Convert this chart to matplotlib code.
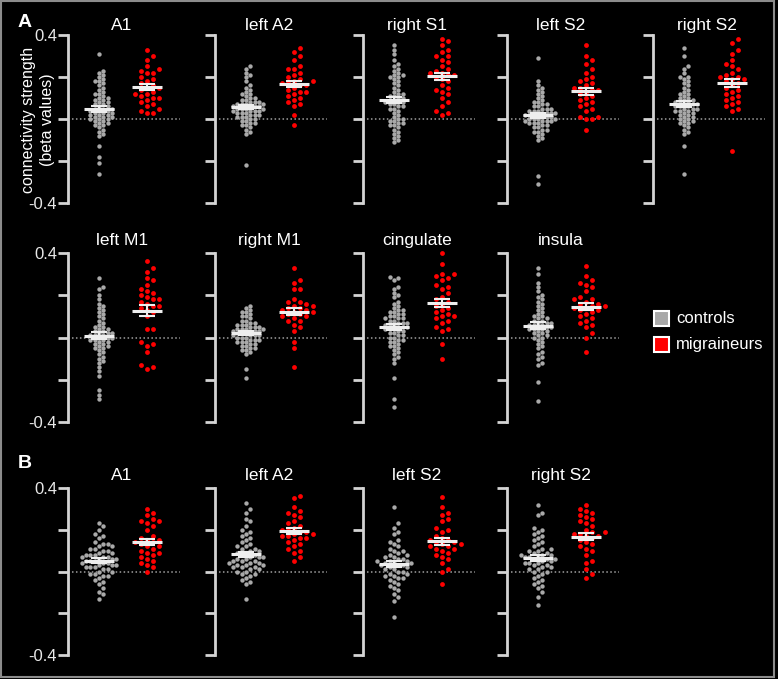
import numpy as np
import matplotlib
matplotlib.use("Agg")
import matplotlib.pyplot as plt
from matplotlib.patches import Rectangle

plt.rcParams['font.family'] = ['Liberation Sans', 'DejaVu Sans']

# ---- data (beta values) ----
groups = ["controls", "migraineurs"]
group_colors = ["#a9a9a9", "#ff0000"]

a1_ctrl = [0.31, 0.23, 0.22, 0.21, 0.20, 0.19, 0.18, 0.18, 0.17, 0.16, 0.15, 0.14, 0.13, 0.12, 0.12,
           0.11, 0.10, 0.10, 0.09, 0.09, 0.08, 0.08, 0.07, 0.07, 0.06, 0.06, 0.05, 0.05, 0.05, 0.04,
           0.04, 0.04, 0.03, 0.03, 0.03, 0.02, 0.02, 0.02, 0.01, 0.01, 0.01, 0.00, 0.00, 0.00, -0.01,
           -0.01, -0.02, -0.02, -0.03, -0.03, -0.04, -0.05, -0.06, -0.07, -0.08, -0.13, -0.18, -0.21, -0.26]
a1_migr = [0.33, 0.30, 0.28, 0.25, 0.24, 0.23, 0.22, 0.22, 0.20, 0.19, 0.18, 0.17, 0.16, 0.15, 0.15,
           0.14, 0.13, 0.12, 0.12, 0.11, 0.10, 0.10, 0.09, 0.08, 0.07, 0.06, 0.05, 0.04, 0.03, 0.03]

la2_ctrl = [0.25, 0.24, 0.22, 0.21, 0.20, 0.18, 0.16, 0.15, 0.14, 0.13, 0.12, 0.12, 0.11, 0.10, 0.10,
            0.09, 0.09, 0.08, 0.08, 0.08, 0.07, 0.07, 0.07, 0.07, 0.06, 0.06, 0.06, 0.06, 0.05, 0.05,
            0.05, 0.05, 0.04, 0.04, 0.04, 0.04, 0.03, 0.03, 0.03, 0.02, 0.02, 0.02, 0.01, 0.01, 0.01,
            0.00, 0.00, -0.01, -0.01, -0.02, -0.02, -0.03, -0.03, -0.04, -0.05, -0.06, -0.07, -0.22]
la2_migr = [0.34, 0.32, 0.30, 0.28, 0.25, 0.24, 0.24, 0.22, 0.21, 0.20, 0.19, 0.18, 0.18, 0.17, 0.17,
            0.16, 0.15, 0.14, 0.13, 0.13, 0.12, 0.11, 0.10, 0.09, 0.08, 0.07, 0.06, 0.02, -0.03, 0.16]

rs1_ctrl = [0.35, 0.33, 0.31, 0.28, 0.26, 0.25, 0.24, 0.23, 0.22, 0.21, 0.21, 0.20, 0.20, 0.19, 0.18,
            0.17, 0.16, 0.15, 0.14, 0.13, 0.12, 0.12, 0.11, 0.11, 0.10, 0.10, 0.09, 0.09, 0.08, 0.08,
            0.08, 0.07, 0.07, 0.06, 0.06, 0.05, 0.05, 0.04, 0.03, 0.02, 0.01, 0.00, 0.00, -0.01, -0.01,
            -0.02, -0.02, -0.03, -0.03, -0.04, -0.05, -0.06, -0.07, -0.08, -0.09, -0.10, -0.11]
rs1_migr = [0.38, 0.37, 0.35, 0.33, 0.32, 0.30, 0.30, 0.28, 0.27, 0.25, 0.24, 0.23, 0.22, 0.21, 0.21,
            0.20, 0.19, 0.18, 0.16, 0.15, 0.14, 0.13, 0.12, 0.10, 0.08, 0.06, 0.04, 0.03, 0.02, 0.22]

ls2_ctrl = [0.29, 0.18, 0.16, 0.15, 0.14, 0.13, 0.12, 0.11, 0.10, 0.09, 0.08, 0.08, 0.07, 0.07, 0.06,
            0.06, 0.05, 0.05, 0.05, 0.04, 0.04, 0.04, 0.03, 0.03, 0.03, 0.03, 0.02, 0.02, 0.02, 0.02,
            0.01, 0.01, 0.01, 0.00, 0.00, 0.00, 0.00, -0.01, -0.01, -0.01, -0.01, -0.02, -0.02, -0.02,
            -0.03, -0.03, -0.04, -0.04, -0.05, -0.05, -0.06, -0.06, -0.07, -0.08, -0.09, -0.10, -0.27, -0.31]
ls2_migr = [0.35, 0.30, 0.28, 0.26, 0.24, 0.22, 0.20, 0.19, 0.18, 0.17, 0.16, 0.15, 0.14, 0.14, 0.13,
            0.12, 0.11, 0.10, 0.09, 0.08, 0.07, 0.06, 0.05, 0.04, 0.01, 0.00, 0.00, 0.01, -0.05, 0.15]

rs2_ctrl = [0.34, 0.30, 0.25, 0.24, 0.22, 0.20, 0.20, 0.19, 0.18, 0.17, 0.16, 0.15, 0.14, 0.13, 0.12,
            0.12, 0.11, 0.10, 0.10, 0.09, 0.09, 0.08, 0.08, 0.08, 0.07, 0.07, 0.07, 0.06, 0.06, 0.06,
            0.05, 0.05, 0.05, 0.04, 0.04, 0.04, 0.03, 0.03, 0.02, 0.02, 0.01, 0.01, 0.00, 0.00, -0.01,
            -0.01, -0.02, -0.02, -0.03, -0.04, -0.05, -0.06, -0.07, -0.13, -0.26]
rs2_migr = [0.38, 0.36, 0.33, 0.31, 0.28, 0.26, 0.25, 0.24, 0.22, 0.21, 0.20, 0.20, 0.19, 0.18, 0.17,
            0.16, 0.15, 0.14, 0.13, 0.12, 0.11, 0.10, 0.09, 0.08, 0.07, 0.06, 0.05, 0.04, -0.15, 0.19]

lm1_ctrl = [0.28, 0.24, 0.23, 0.20, 0.18, 0.16, 0.15, 0.14, 0.13, 0.12, 0.11, 0.10, 0.09, 0.08, 0.07,
            0.06, 0.05, 0.05, 0.04, 0.04, 0.03, 0.03, 0.02, 0.02, 0.02, 0.01, 0.01, 0.01, 0.00, 0.00,
            0.00, -0.01, -0.01, -0.01, -0.02, -0.02, -0.03, -0.03, -0.04, -0.04, -0.05, -0.05, -0.06,
            -0.07, -0.08, -0.09, -0.10, -0.11, -0.12, -0.14, -0.16, -0.18, -0.25, -0.27, -0.29]
lm1_migr = [0.36, 0.33, 0.31, 0.28, 0.27, 0.25, 0.23, 0.22, 0.21, 0.20, 0.19, 0.18, 0.18, 0.17, 0.16,
            0.15, 0.15, 0.14, 0.13, 0.12, 0.10, 0.04, 0.04, -0.02, -0.03, -0.04, -0.07, -0.13, -0.14, -0.15]

rm1_ctrl = [0.15, 0.14, 0.13, 0.12, 0.12, 0.11, 0.10, 0.10, 0.09, 0.08, 0.08, 0.07, 0.07, 0.06, 0.06,
            0.06, 0.05, 0.05, 0.05, 0.04, 0.04, 0.04, 0.04, 0.03, 0.03, 0.03, 0.03, 0.02, 0.02, 0.02,
            0.01, 0.01, 0.01, 0.01, 0.00, 0.00, 0.00, -0.01, -0.01, -0.01, -0.02, -0.02, -0.02, -0.03,
            -0.03, -0.04, -0.04, -0.05, -0.05, -0.06, -0.06, -0.07, -0.08, -0.15, -0.19]
rm1_migr = [0.33, 0.27, 0.26, 0.23, 0.23, 0.18, 0.17, 0.17, 0.16, 0.15, 0.15, 0.14, 0.14, 0.13, 0.13,
            0.12, 0.12, 0.11, 0.11, 0.10, 0.10, 0.09, 0.08, 0.08, 0.06, 0.05, 0.03, -0.02, -0.05, -0.14]

cing_ctrl = [0.285, 0.28, 0.27, 0.24, 0.23, 0.21, 0.20, 0.19, 0.17, 0.16, 0.15, 0.14, 0.13, 0.13, 0.12,
             0.12, 0.11, 0.11, 0.10, 0.10, 0.09, 0.09, 0.09, 0.08, 0.08, 0.07, 0.07, 0.07, 0.06, 0.06,
             0.06, 0.05, 0.05, 0.05, 0.04, 0.04, 0.04, 0.03, 0.03, 0.02, 0.02, 0.01, 0.01, 0.00, 0.00,
             -0.01, -0.01, -0.02, -0.02, -0.03, -0.04, -0.04, -0.05, -0.06, -0.07, -0.08, -0.09, -0.10,
             -0.12, -0.19, -0.29, -0.33]
cing_migr = [0.40, 0.35, 0.30, 0.30, 0.29, 0.28, 0.27, 0.25, 0.24, 0.23, 0.21, 0.19, 0.18, 0.17, 0.16,
             0.15, 0.14, 0.13, 0.12, 0.11, 0.10, 0.10, 0.09, 0.08, 0.07, 0.05, 0.04, 0.03, -0.03, -0.10]

ins_ctrl = [0.33, 0.30, 0.26, 0.24, 0.22, 0.20, 0.19, 0.18, 0.17, 0.16, 0.15, 0.14, 0.13, 0.12, 0.11,
            0.10, 0.10, 0.09, 0.09, 0.08, 0.08, 0.07, 0.07, 0.07, 0.06, 0.06, 0.06, 0.05, 0.05, 0.05,
            0.04, 0.04, 0.04, 0.03, 0.03, 0.02, 0.02, 0.01, 0.01, 0.00, 0.00, -0.01, -0.02, -0.03,
            -0.04, -0.05, -0.07, -0.08, -0.09, -0.10, -0.12, -0.13, -0.21, -0.30]
ins_migr = [0.34, 0.29, 0.27, 0.26, 0.25, 0.24, 0.22, 0.19, 0.18, 0.18, 0.17, 0.16, 0.16, 0.15, 0.15,
            0.14, 0.14, 0.13, 0.13, 0.12, 0.11, 0.10, 0.09, 0.08, 0.07, 0.06, 0.05, 0.02, 0.00, -0.07]

b_a1_ctrl = [0.23, 0.22, 0.20, 0.18, 0.17, 0.16, 0.14, 0.13, 0.13, 0.12, 0.12, 0.11, 0.11, 0.10, 0.10,
             0.09, 0.09, 0.08, 0.08, 0.08, 0.07, 0.07, 0.07, 0.06, 0.06, 0.06, 0.05, 0.05, 0.05, 0.04,
             0.04, 0.04, 0.03, 0.03, 0.03, 0.02, 0.02, 0.02, 0.01, 0.01, 0.00, 0.00, -0.01, -0.01,
             -0.02, -0.02, -0.03, -0.04, -0.05, -0.06, -0.08, -0.10, -0.11, -0.13]
b_a1_migr = [0.30, 0.28, 0.27, 0.25, 0.24, 0.24, 0.23, 0.22, 0.20, 0.17, 0.16, 0.15, 0.15, 0.14, 0.14,
             0.13, 0.12, 0.12, 0.11, 0.10, 0.09, 0.09, 0.08, 0.07, 0.06, 0.05, 0.04, 0.03, 0.02, 0.00]

b_la2_ctrl = [0.33, 0.30, 0.28, 0.25, 0.24, 0.22, 0.20, 0.19, 0.18, 0.17, 0.16, 0.15, 0.14, 0.13, 0.12,
              0.12, 0.11, 0.11, 0.10, 0.10, 0.09, 0.09, 0.08, 0.08, 0.07, 0.07, 0.07, 0.06, 0.06, 0.05,
              0.05, 0.05, 0.04, 0.04, 0.04, 0.03, 0.03, 0.03, 0.02, 0.02, 0.02, 0.01, 0.01, 0.00, 0.00,
              -0.01, -0.01, -0.02, -0.03, -0.04, -0.05, -0.06, -0.13]
b_la2_migr = [0.36, 0.35, 0.31, 0.29, 0.28, 0.27, 0.26, 0.24, 0.23, 0.22, 0.21, 0.20, 0.20, 0.19, 0.19,
              0.18, 0.18, 0.17, 0.17, 0.16, 0.16, 0.15, 0.14, 0.13, 0.12, 0.11, 0.10, 0.09, 0.07, 0.05]

b_ls2_ctrl = [0.31, 0.23, 0.21, 0.19, 0.18, 0.15, 0.14, 0.13, 0.12, 0.11, 0.10, 0.10, 0.09, 0.08, 0.08,
              0.07, 0.07, 0.06, 0.06, 0.05, 0.05, 0.05, 0.04, 0.04, 0.04, 0.03, 0.03, 0.03, 0.02, 0.02,
              0.01, 0.01, 0.00, 0.00, -0.01, -0.01, -0.02, -0.02, -0.03, -0.03, -0.04, -0.05, -0.06,
              -0.07, -0.08, -0.09, -0.11, -0.12, -0.14, -0.22]
b_ls2_migr = [0.355, 0.31, 0.28, 0.27, 0.25, 0.24, 0.21, 0.20, 0.19, 0.17, 0.16, 0.15, 0.15, 0.14, 0.14,
              0.13, 0.13, 0.12, 0.12, 0.11, 0.11, 0.10, 0.09, 0.08, 0.07, 0.06, 0.04, 0.01, 0.00, -0.06]

b_rs2_ctrl = [0.32, 0.28, 0.27, 0.21, 0.20, 0.19, 0.18, 0.17, 0.16, 0.15, 0.14, 0.13, 0.12, 0.11, 0.11,
              0.10, 0.10, 0.09, 0.09, 0.08, 0.08, 0.08, 0.07, 0.07, 0.07, 0.06, 0.06, 0.06, 0.05, 0.05,
              0.04, 0.04, 0.04, 0.03, 0.03, 0.02, 0.02, 0.01, 0.01, 0.00, 0.00, -0.01, -0.02, -0.03,
              -0.04, -0.05, -0.06, -0.07, -0.08, -0.10, -0.12, -0.16]
b_rs2_migr = [0.32, 0.30, 0.29, 0.28, 0.27, 0.26, 0.25, 0.24, 0.23, 0.22, 0.20, 0.19, 0.19, 0.18, 0.18,
              0.17, 0.17, 0.16, 0.15, 0.14, 0.13, 0.12, 0.11, 0.10, 0.08, 0.05, 0.04, 0.01, -0.01, -0.03]

# (title, controls, migraineurs, row, column)
panels = [
    ("A1", a1_ctrl, a1_migr, 0, 0),
    ("left A2", la2_ctrl, la2_migr, 0, 1),
    ("right S1", rs1_ctrl, rs1_migr, 0, 2),
    ("left S2", ls2_ctrl, ls2_migr, 0, 3),
    ("right S2", rs2_ctrl, rs2_migr, 0, 4),
    ("left M1", lm1_ctrl, lm1_migr, 1, 0),
    ("right M1", rm1_ctrl, rm1_migr, 1, 1),
    ("cingulate", cing_ctrl, cing_migr, 1, 2),
    ("insula", ins_ctrl, ins_migr, 1, 3),
    ("A1", b_a1_ctrl, b_a1_migr, 2, 0),
    ("left A2", b_la2_ctrl, b_la2_migr, 2, 1),
    ("left S2", b_ls2_ctrl, b_ls2_migr, 2, 2),
    ("right S2", b_rs2_ctrl, b_rs2_migr, 2, 3),
]

# ---- layout in pixels ----
W, H = 778, 679
row_top = [35, 253, 488]      # pixel y of +0.4
row_bot = [203, 422, 655]     # pixel y of -0.4
row_title = [30, 245, 480]    # title baseline
col_x = [68, 215, 363, 507, 653]
AX_W = 120
centers = [31, 79]
spine_col = "#d4d4d4"


def swarm(vals, d, px_per_unit):
    """beeswarm offsets (pixels) for the given values"""
    ys = np.asarray(vals) * px_per_unit
    order = np.argsort(ys)
    placed = []
    xs = np.zeros(len(ys))
    for i in order:
        k = 0
        while True:
            step = (k + 1) // 2 * (1 if k % 2 else -1)
            cand = step * d
            ok = True
            for (px, py) in placed:
                if (px - cand) ** 2 + (py - ys[i]) ** 2 < d * d * 0.95:
                    ok = False
                    break
            if ok:
                break
            k += 1
        xs[i] = cand
        placed.append((cand, ys[i]))
    return xs


fig = plt.figure(figsize=(W / 100, H / 100), dpi=100, facecolor="black")


def fx(x):
    return x / W


def fy(y):
    return 1 - y / H


for title, ctrl, migr, r, c in panels:
    x0 = col_x[c]
    h = row_bot[r] - row_top[r]
    ax = fig.add_axes([fx(x0), fy(row_bot[r]), AX_W / W, h / H])
    ax.set_facecolor("black")
    ax.patch.set_alpha(0)
    ax.set_xlim(0, AX_W)
    ax.set_ylim(-0.4, 0.4)
    for s in ["top", "right", "bottom"]:
        ax.spines[s].set_visible(False)
    ax.spines["left"].set_color(spine_col)
    ax.spines["left"].set_linewidth(2)
    ax.set_xticks([])
    ax.set_yticks([-0.4, -0.2, 0, 0.2, 0.4])
    if c == 0:
        ax.set_yticklabels(["-0.4", "", "", "", "0.4"])
    else:
        ax.set_yticklabels([])
    ax.tick_params(axis="y", direction="out", length=7, width=2, color=spine_col,
                   labelcolor="#e8e8e8", labelsize=12, pad=1)

    ax.plot([0, 112], [0, 0], color="#a0a0a0", lw=1.1, ls=(0, (1, 1.6)), zorder=2)

    px_per_unit = h / 0.8
    for g, vals in enumerate([ctrl, migr]):
        vals = np.asarray(vals)
        d = 4.3 if g == 0 else 6.2
        offs = swarm(vals, d, px_per_unit)
        ms = 10 if g == 0 else 12
        ax.scatter(centers[g] + offs, vals, s=ms, color=group_colors[g], linewidths=0,
                   zorder=3, clip_on=False)
        m = vals.mean()
        sem = vals.std(ddof=1) / np.sqrt(len(vals))
        cx = centers[g]
        ax.plot([cx - 15, cx + 15], [m, m], color="#eeeeee", lw=2.2, zorder=4, solid_capstyle="butt")
        ax.plot([cx, cx], [m - sem, m + sem], color="#eeeeee", lw=1.5, zorder=4)
        for e in (m - sem, m + sem):
            ax.plot([cx - 8, cx + 8], [e, e], color="#eeeeee", lw=1.5, zorder=4,
                    solid_capstyle="butt")

    fig.text(fx(x0 + 54), fy(row_title[r]), title, color="white", fontsize=12.5,
             ha="center", va="baseline")

# panel letters
fig.text(fx(18), fy(27), "A", color="white", fontsize=14, fontweight="bold", va="baseline")
fig.text(fx(18), fy(468), "B", color="white", fontsize=14, fontweight="bold", va="baseline")

# y axis label
fig.text(fx(38), fy(120), "connectivity strength\n(beta values)", color="white", fontsize=11.5,
         rotation=90, ha="center", va="center", linespacing=1.3)

# legend
for i, (name, col) in enumerate(zip(groups, group_colors)):
    ytop = 311 + i * 26
    fig.add_artist(Rectangle((fx(654), fy(ytop + 15)), 15 / W, 15 / H, transform=fig.transFigure,
                             facecolor=col, edgecolor="white", linewidth=1.5))
    fig.text(fx(676), fy(ytop + 7.5), name, color="white", fontsize=12, va="center", ha="left")

# outer frame
fig.add_artist(Rectangle((fx(1), fy(677)), 773 / W, 676 / H, transform=fig.transFigure,
                         facecolor="none", edgecolor="#8c8c8c", linewidth=1.5))

fig.savefig("out.png", dpi=100, facecolor="black")
